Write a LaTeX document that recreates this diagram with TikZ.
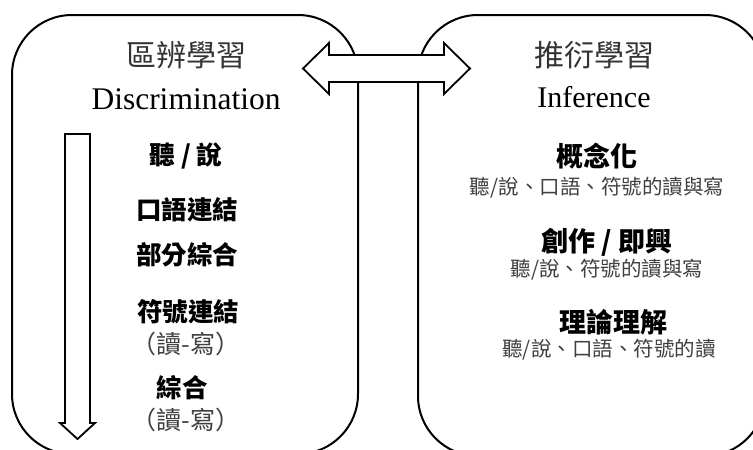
\documentclass[tikz,border=0pt]{standalone}
\usepackage{fontspec}
\setmainfont{Liberation Serif}
\newfontfamily\cjk{Noto Sans CJK TC}
\tikzset{
  panel/.style={draw=black, line width=2pt, rounded corners=60pt, inner sep=0pt},
  bigarrow/.style={draw=black, fill=white, line width=1.8pt, line join=miter},
  title/.style={font=\cjk\fontsize{30}{32}\selectfont, text=black!80},
  eng/.style={font=\fontsize{31.5}{33}\selectfont, text=black},
  bitem/.style={font=\cjk\bfseries\fontsize{25.5}{28}\selectfont, text=black},
  sub/.style={font=\cjk\fontsize{25}{27}\selectfont, text=black!75},
  rbitem/.style={font=\cjk\bfseries\fontsize{27}{29}\selectfont, text=black},
  rsub/.style={font=\cjk\fontsize{20.5}{23}\selectfont, text=black!75},
}
\begin{document}
\begin{tikzpicture}[x=1pt,y=-1pt]
\clip (0,0) rectangle (753,450);
\fill[white] (0,0) rectangle (753,450);
% panels
\node[panel, minimum width=346pt, minimum height=439pt] (L) at (185,234.5) {};
\node[panel, minimum width=347pt, minimum height=441pt] (R) at (591.5,235.5) {};
% double arrow between panels
\coordinate (lrL) at (303,68.5);
\coordinate (lrR) at (470,68.5);
\draw[bigarrow] (lrL) -- (329,43) -- (329,55) -- (444,55) -- (444,43) -- (lrR)
  -- (444,94) -- (444,82) -- (329,82) -- (329,94) -- cycle;
% downward arrow
\coordinate (dtip) at (77.5,439);
\draw[bigarrow] (65,134) -- (90,134) -- (90,423) -- (95,423) -- (dtip)
  -- (60,423) -- (65,423) -- cycle;
% left texts
\node[title] (lt) at (186,55) {區辨學習};
\node[eng, anchor=base] (le) at (186,109) {Discrimination};
\node[bitem] (l1) at (186,156) {聽 / 說};
\node[bitem] (l2) at (187,210) {口語連結};
\node[bitem] (l3) at (187,255) {部分綜合};
\node[bitem] (l4) at (188,312) {符號連結};
\node[sub] (l5) at (186,344) {（讀-寫）};
\node[bitem] (l6) at (182,388) {綜合};
\node[sub] (l7) at (186,420) {（讀-寫）};
% right texts
\node[title] (rt) at (594,55) {推衍學習};
\node[eng, font=\fontsize{30}{32}\selectfont, anchor=base] (re) at (594,107) {Inference};
\node[rbitem] (r1) at (597,156) {概念化};
\node[rsub] (r2) at (597,188) {聽/說、口語、符號的讀與寫};
\node[rbitem] (r3) at (607,242) {創作 / 即興};
\node[rsub] (r4) at (607,270) {聽/說、符號的讀與寫};
\node[rbitem] (r5) at (613,322) {理論理解};
\node[rsub] (r6) at (609,350) {聽/說、口語、符號的讀};
\end{tikzpicture}
\end{document}
